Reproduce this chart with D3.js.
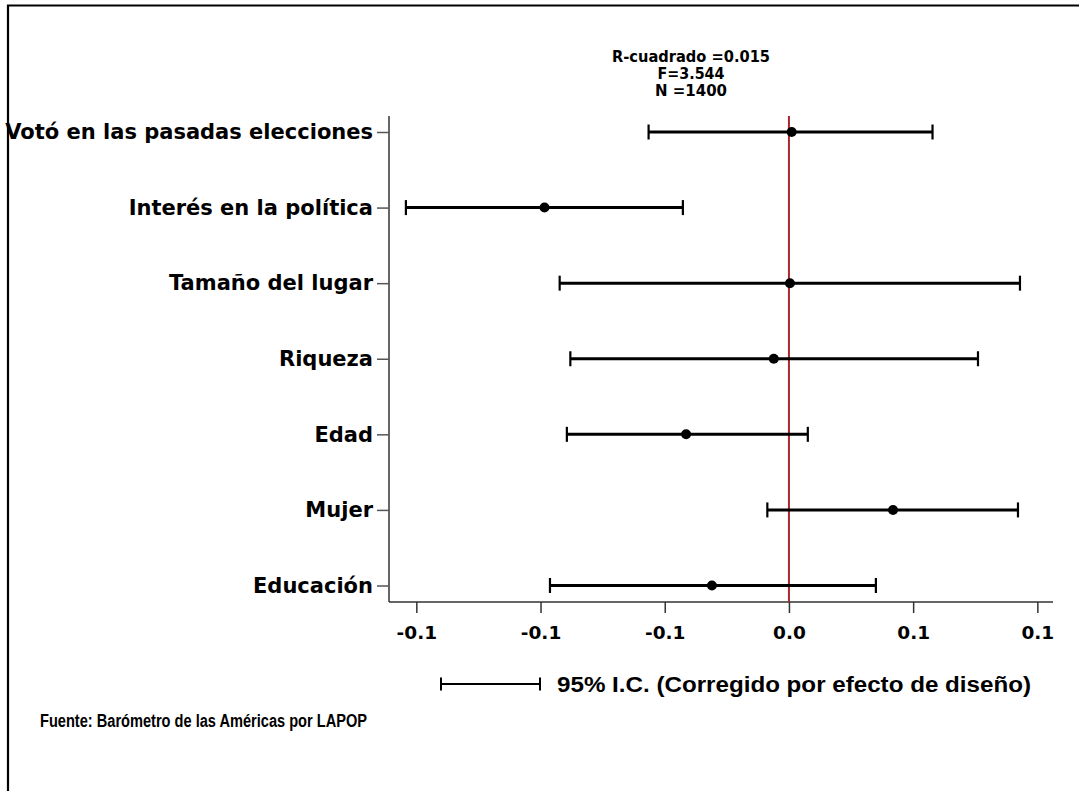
<!DOCTYPE html>
<html>
<head>
<meta charset="utf-8">
<script src="https://cdn.jsdelivr.net/npm/d3@7"></script>
<style>
  html, body { margin: 0; padding: 0; background: #fff; }
  svg { display: block; }
  .lbl { font-family: "DejaVu Sans", sans-serif; font-weight: bold; }
  .arl { font-family: "Liberation Sans", Arial, sans-serif; font-weight: bold; }
</style>
</head>
<body>
<script>
// ---- data ----
const categories = ["Votó en las pasadas elecciones", "Interés en la política", "Tamaño del lugar", "Riqueza", "Edad", "Mujer", "Educación"];
const coef  = [0.0011, -0.0984, 0.0004, -0.0061, -0.0414, 0.0419, -0.0310];
const lower = [-0.0565, -0.1542, -0.0923, -0.0880, -0.0894, -0.0087, -0.0962];
const upper = [0.0578, -0.0427, 0.0930, 0.0761, 0.0076, 0.0922, 0.0350];
const tickValues = [-0.15, -0.10, -0.05, 0.00, 0.05, 0.10];
const tickLabels = ["-0.1", "-0.1", "-0.1", "0.0", "0.1", "0.1"];
const statsLines = ["R-cuadrado =0.015", "F=3.544", "N =1400"];
const legendText = "95% I.C. (Corregido por efecto de diseño)";
const sourceText = "Fuente: Barómetro de las Américas por LAPOP";

const W = 1079, H = 791;
const svg = d3.select("body").append("svg").attr("width", W).attr("height", H);

// outer frame (extends past the visible area on right/bottom)
svg.append("path").attr("d", `M8,${H + 10} L8,5.5 L${W + 10},5.5`)
  .attr("fill", "none").attr("stroke", "#000").attr("stroke-width", 2.2);

const plot = { left: 389, right: 1053, top: 116, bottom: 602 };

const x = d3.scaleLinear().domain([-0.161, 0.1063]).range([plot.left, plot.right]);
const y = d3.scalePoint().domain(categories).range([132, 585.5]);

// x axis
const xAxis = d3.axisBottom(x).tickValues(tickValues)
  .tickFormat((d, i) => tickLabels[i]).tickSize(11).tickSizeOuter(0).tickPadding(13);
const gx = svg.append("g").attr("transform", `translate(0,${plot.bottom})`).call(xAxis);
gx.select(".domain").attr("stroke", "#333").attr("stroke-width", 1.5)
  .attr("d", `M${plot.left},0H${plot.right}`);
gx.selectAll(".tick line").attr("stroke", "#333").attr("stroke-width", 1.5);
gx.selectAll(".tick text").attr("class", "lbl").attr("font-size", 18.5).attr("fill", "#000")
  .attr("font-family", null);

// y axis
const yAxis = d3.axisLeft(y).tickSize(12).tickSizeOuter(0).tickPadding(4);
const gy = svg.append("g").attr("transform", `translate(${plot.left},0)`).call(yAxis);
gy.select(".domain").attr("stroke", "#333").attr("stroke-width", 1.5)
  .attr("d", `M0,${plot.top}V${plot.bottom}`);
gy.selectAll(".tick line").attr("stroke", "#555").attr("stroke-width", 1.5);
gy.selectAll(".tick text").attr("class", "lbl").attr("font-size", 21).attr("fill", "#000")
  .attr("font-family", null);

// zero reference line
svg.append("line")
  .attr("x1", x(0)).attr("x2", x(0)).attr("y1", plot.top).attr("y2", plot.bottom)
  .attr("stroke", "#a8282d").attr("stroke-width", 2);

// error bars
const rows = categories.map((c, i) => ({ c, b: coef[i], lo: lower[i], hi: upper[i] }));
const eb = svg.append("g");
rows.forEach(r => {
  const yy = y(r.c);
  eb.append("line").attr("x1", x(r.lo)).attr("x2", x(r.hi)).attr("y1", yy).attr("y2", yy)
    .attr("stroke", "#000").attr("stroke-width", 3);
  [r.lo, r.hi].forEach(v => {
    eb.append("line").attr("x1", x(v)).attr("x2", x(v)).attr("y1", yy - 7.5).attr("y2", yy + 7.5)
      .attr("stroke", "#000").attr("stroke-width", 2.2);
  });
  eb.append("circle").attr("cx", x(r.b)).attr("cy", yy).attr("r", 5).attr("fill", "#000");
});

// stats text
const statWidths = [158, 67, 72];
statsLines.forEach((s, i) => {
  svg.append("text").attr("class", "lbl").attr("text-anchor", "middle")
    .attr("x", 691).attr("y", 62 + i * 17)
    .attr("font-size", 16.5).attr("fill", "#000")
    .attr("textLength", statWidths[i]).attr("lengthAdjust", "spacingAndGlyphs")
    .text(s);
});

// legend
const lg = svg.append("g");
lg.append("line").attr("x1", 441).attr("x2", 540).attr("y1", 684).attr("y2", 684)
  .attr("stroke", "#000").attr("stroke-width", 2.2);
[441, 540].forEach(xx => lg.append("line").attr("x1", xx).attr("x2", xx)
  .attr("y1", 677.5).attr("y2", 690.5).attr("stroke", "#000").attr("stroke-width", 2));
lg.append("text").attr("class", "arl").attr("x", 557).attr("y", 692)
  .attr("font-size", 22).attr("fill", "#000")
  .attr("textLength", 474).attr("lengthAdjust", "spacingAndGlyphs")
  .text(legendText);

// source
svg.append("text").attr("class", "arl").attr("x", 40).attr("y", 727)
  .attr("font-size", 18).attr("fill", "#000")
  .attr("textLength", 327).attr("lengthAdjust", "spacingAndGlyphs")
  .text(sourceText);
</script>
</body>
</html>
